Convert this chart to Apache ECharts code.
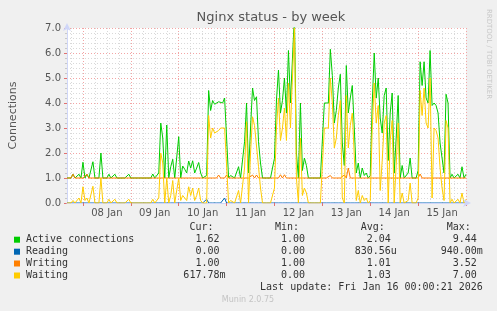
<!DOCTYPE html>
<html><head><meta charset="utf-8">
<script src="https://cdn.jsdelivr.net/npm/echarts@6/dist/echarts.min.js"></script>
<style>html,body{margin:0;padding:0;background:#f0f0f0;}#c{width:497px;height:311px;}</style>
</head><body><div id="c"></div>
<script>
// x = hours since 07 Jan 16:00 (one value per hour, 0..200 = 16 Jan 00:00)
const dayLabels = ['08 Jan','09 Jan','10 Jan','11 Jan','12 Jan','13 Jan','14 Jan','15 Jan'];
const yTicks = [0,1,2,3,4,5,6,7];

const activeConnections = [
1.0,1.0,1.0,1.15,1.0,1.0,1.15,1.0,1.63,1.0,
1.15,1.0,1.0,1.65,1.0,1.0,1.0,2.0,1.0,1.0,
1.0,1.15,1.0,1.0,1.15,1.0,1.0,1.0,1.0,1.0,
1.0,1.15,1.0,1.0,1.0,1.0,1.0,1.0,1.0,1.0,
1.0,1.0,1.0,1.16,1.0,1.0,1.2,3.2,2.6,1.0,
3.12,1.0,1.45,1.75,1.0,1.0,2.65,1.0,1.48,1.35,
1.2,1.68,1.4,1.69,1.2,1.4,1.62,1.2,1.0,1.0,
1.1,4.5,3.7,4.1,3.95,3.9,4.05,4.1,4.0,4.2,
4.15,1.0,1.1,1.1,1.0,1.0,1.45,1.0,1.0,2.45,
4.0,1.2,3.0,4.6,4.1,4.25,2.45,1.6,1.0,1.0,
1.0,1.0,1.0,1.0,1.79,4.12,5.32,3.6,4.1,5.0,
3.6,6.1,4.0,4.0,7.5,2.0,1.0,4.0,1.3,1.8,
1.5,1.0,1.0,1.0,1.0,1.0,1.0,1.0,1.0,4.0,
4.0,4.0,6.15,5.1,3.2,3.7,4.6,5.15,2.4,1.5,
5.5,3.6,4.2,4.7,3.0,1.2,1.6,1.0,1.4,1.1,
1.2,1.0,1.1,4.0,6.0,4.2,5.0,3.4,2.8,4.3,
4.6,1.7,3.6,4.4,1.2,2.6,4.3,1.0,1.5,1.0,
1.0,1.2,1.8,1.0,1.0,1.0,1.3,5.65,4.7,5.65,
4.2,4.0,6.1,3.9,4.0,3.9,3.6,2.4,1.8,1.2,
4.35,4.0,1.0,1.15,1.0,1.0,1.15,1.0,1.45,1.0,
1.15];

const reading = [
0,0,0,0,0,0,0,0,0,0, 0,0,0,0,0,0,0,0,0,0,
0,0,0,0,0,0,0,0,0,0, 0,0,0,0,0,0,0,0,0,0,
0,0,0,0,0,0,0,0,0,0, 0,0,0,0,0,0,0,0,0,0,
0,0,0,0,0,0,0,0,0,0, 0.15,0,0,0,0,0,0,0,0,0.2,
0,0,0,0,0,0,0,0,0,0, 0,0,0,0,0,0,0,0,0,0,
0,0,0,0,0,0,0,0,0,0, 0,0,0,0,0,0,0,0,0,0,
0,0,0,0,0,0,0,0,0,0, 0,0,0,0,0,0,0,0,0,0,
0,0,0,0,0,0,0,0,0,0, 0,0,0,0,0,0,0,0,0,0,
0,0,0,0,0,0,0,0,0,0, 0,0,0,0,0,0,0,0,0,0,
0,0,0,0,0,0,0,0,0,0, 0,0,0,0,0,0,0,0,0,0,
0];

const writing = [
1,1,1,1.15,1,1,1,1,1,1, 1.15,1,1,1,1,1,1,1,1,1,
1,1,1,1,1,1,1,1,1,1, 1,1,1,1,1,1,1,1,1,1,
1,1,1,1,1,1,1,1,1,1, 1,1,1,1,1,1,1,1,1,1,
1,1,1,1,1,1,1,1,1,1, 1,1,1,1,1,1,1.12,1,1,1,
1.12,1,1,1,1,1,1,1,1,1, 1,1,1,1.12,1,1.12,1,1,1,1,
1,1,1,1,1,1,1,1.13,1,1.13, 1,1,1,1,1,1,1,1,1,1,
1,1,1,1,1,1,1,1,1,1, 1,1,1.1,1,1,1,1,1,1,1.12,
1,1.4,1,1,1,1,1,1,1,1, 1,1,1,1,1,1,1,1,1,1,
1,1,1,1,1,1,1,1,1,1, 1,1,1,1,1,1,1,1.16,1,1,
1,1,1,1,1,1,1,1,1,1, 1,1,1,1,1,1,1,1,1,1,
1];

const waiting = [
0,0,0,0.1,0,0,0.2,0,0.65,0.1,
0.2,0,0,0.67,0,0,0,1.0,0,0,
0,0.15,0,0,0.15,0,0,0,0,0,
0,0.15,0,0,0,0,0,0,0,0,
0,0,0,0.15,0,0,0.2,2.0,1.6,0,
1.0,0,0.3,0.9,0,0,1.0,0.1,0.3,0.2,
0.1,0.65,0.3,0.6,0.1,0.3,0.6,0.1,0,0,
0,3.5,2.6,3.0,2.8,2.8,2.9,3.0,3.0,3.0,
3.0,0,0.1,0.1,0,0,0.5,0,0,1.4,
3.25,0,2.0,3.45,3.1,3.1,1.45,0.6,0,0,
0,0,0,0,0.6,3.0,4.2,2.5,3.0,3.8,
2.5,4.8,3.0,3.0,7.0,1.0,0,2.6,0.3,0.6,
0.4,0,0,0,0,0,0,0,0,3.0,
3.0,3.0,5.0,4.0,2.2,2.6,3.5,4.1,0.2,0,
4.3,2.2,3.1,3.6,1.9,0.1,0.5,0,0.3,0.1,
0.2,0,0.1,3.0,4.8,3.2,3.9,0.5,1.7,3.2,
3.5,0,2.5,3.3,0,1.5,3.2,0,0.4,0,
0,0.1,0.8,0,0,0,0.2,4.5,3.5,4.6,
3.2,3.0,5.0,0.2,3.0,2.9,2.6,1.4,0.6,0.1,
3.3,3.0,0,0.15,0,0,0.15,0,0.4,0,
0.15];

const seriesNames = ['Active connections','Reading','Writing','Waiting'];
const seriesColors = ['#00cc00','#0066b3','#ff8000','#ffcc00'];
const colHeads = ['Cur:','Min:','Avg:','Max:'];
const curVals = ['1.62','0.00','1.00','617.78m'];
const minVals = ['1.00','0.00','1.00','0.00'];
const avgVals = ['2.04','830.56u','1.01','1.03'];
const maxVals = ['9.44','940.00m','3.52','7.00'];
const lastUpdate = 'Last update: Fri Jan 16 00:00:21 2026';

const seriesData = [activeConnections, reading, writing, waiting];

// grid line positions (hours since 07 Jan 16:00)
const dayHours = []; for (let h = 8; h <= 200; h += 24) dayHours.push(h);
const minorHours = []; for (let h = 2; h <= 200; h += 6) if ((h - 8) % 24 !== 0) minorHours.push(h);
const labelHours = dayLabels.map((_, i) => 20 + 24 * i);

const axisColor = '#cfd6f8';
const majorGrid = '#f3a5a5';
const minorGrid = '#d9d9d9';
const mono = '"DejaVu Sans Mono", monospace';
const sans = '"DejaVu Sans", sans-serif';

const chart = echarts.init(document.getElementById('c'), null, {renderer: 'canvas'});

const graphics = [];
graphics.push({type:'text', x:271, y:18, style:{text:'Nginx status - by week', font:'13px ' + sans, fill:'#555', align:'center', verticalAlign:'middle'}});
graphics.push({type:'text', x:489, y:54, rotation:-Math.PI/2, style:{text:'RRDTOOL / TOBI OETIKER', font:'7px ' + sans, fill:'#c8c8c8', align:'center', verticalAlign:'middle'}});
const colEdge = [225.5, 311, 396.8, 482.8];
const charW = 6.02;
colHeads.forEach((h, c) => {
  graphics.push({type:'text', x:colEdge[c] - 2*charW, y:227.7, style:{text:h, font:'10px ' + mono, fill:'#333', align:'right', verticalAlign:'middle'}});
});
const rowY = [239.7, 251.7, 263.5, 275.5];
const cols = [curVals, minVals, avgVals, maxVals];
seriesNames.forEach((n, r) => {
  graphics.push({type:'rect', shape:{x:14, y:rowY[r]-3, width:6, height:6}, style:{fill:seriesColors[r]}});
  graphics.push({type:'text', x:26, y:rowY[r], style:{text:n, font:'10px ' + mono, fill:'#333', align:'left', verticalAlign:'middle'}});
  cols.forEach((vals, c) => {
    const s = vals[r];
    const hasSuffix = /[a-zA-Z]$/.test(s);
    graphics.push({type:'text', x:colEdge[c] - (hasSuffix ? 0 : charW), y:rowY[r], style:{text:s, font:'10px ' + mono, fill:'#333', align:'right', verticalAlign:'middle'}});
  });
});
graphics.push({type:'text', x:482.8, y:287.7, style:{text:lastUpdate, font:'10px ' + mono, fill:'#333', align:'right', verticalAlign:'middle'}});
graphics.push({type:'text', x:248, y:300, style:{text:'Munin 2.0.75', font:'8px ' + sans, fill:'#c4c4c4', align:'center', verticalAlign:'middle'}});

const option = {
  animation: false,
  backgroundColor: '#f0f0f0',
  grid: {left:66, top:28, width:400, height:175, show:true, backgroundColor:'#ffffff', borderWidth:0},
  xAxis: [
    {type:'value', min:0, max:200, position:'bottom', z:5,
     axisLine:{show:true, onZero:false, lineStyle:{color:axisColor, width:1}, symbol:['none','arrow'], symbolSize:[6,8], symbolOffset:[0,5]},
     axisTick:{show:true, customValues:dayHours, length:3, lineStyle:{color:'#e07070'}},
     axisLabel:{show:true, customValues:labelHours, formatter:(v) => dayLabels[Math.round((v - 20) / 24)], color:'#555', fontSize:10, fontFamily:sans, margin:5},
     splitLine:{show:false}},
    {type:'value', min:0, max:200, position:'bottom',
     axisLine:{show:false}, axisTick:{show:false, customValues:dayHours}, axisLabel:{show:false},
     splitLine:{show:true, lineStyle:{color:majorGrid, type:[1,2], width:1}}},
    {type:'value', min:0, max:200, position:'bottom',
     axisLine:{show:false}, axisTick:{show:false, customValues:minorHours}, axisLabel:{show:false},
     splitLine:{show:true, lineStyle:{color:minorGrid, type:[1,2], width:1}}}
  ],
  yAxis: {type:'value', min:yTicks[0], max:yTicks[yTicks.length-1], interval:1,
    axisLine:{show:true, lineStyle:{color:axisColor, width:1}, symbol:['none','arrow'], symbolSize:[6,8], symbolOffset:[0,5]},
    axisTick:{show:true, length:3, lineStyle:{color:'#e07070'}},
    minorTick:{show:true, splitNumber:5, length:2, lineStyle:{color:'#c8c8c8'}},
    axisLabel:{formatter:(v) => v.toFixed(1), color:'#555', fontSize:10, fontFamily:sans, margin:6},
    splitLine:{show:true, lineStyle:{color:majorGrid, type:[1,2], width:1}},
    minorSplitLine:{show:true, lineStyle:{color:minorGrid, type:[1,2], width:1}},
    name:'Connections', nameLocation:'middle', nameGap:48,
    nameTextStyle:{color:'#555', fontSize:11, fontFamily:sans}},
  series: seriesNames.map((n, k) => ({
    name:n, type:'line', xAxisIndex:0, yAxisIndex:0,
    data: seriesData[k].map((v, i) => [i, v]),
    showSymbol:false, symbol:'none', clip:true, z:2 + k,
    lineStyle:{width:1, color:seriesColors[k]}, itemStyle:{color:seriesColors[k]}
  })),
  graphic: graphics
};
chart.setOption(option);
</script>
</body></html>
